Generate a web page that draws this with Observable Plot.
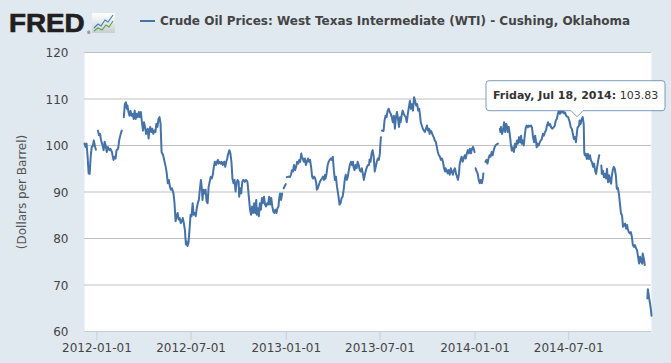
<!DOCTYPE html>
<html><head><meta charset="utf-8">
<script src="https://cdn.jsdelivr.net/npm/d3@7"></script>
<script src="https://cdn.jsdelivr.net/npm/@observablehq/plot@0.6"></script>
<style>
html,body{margin:0;padding:0;background:#E1E9F0;}
#chart{position:relative;width:671px;height:363px;overflow:hidden;}
</style></head><body><div id="chart"></div>
<script>
const seriesName = "Crude Oil Prices: West Texas Intermediate (WTI) - Cushing, Oklahoma";
const yLabel = "(Dollars per Barrel)";
const xTickLabels = ["2012-01-01","2012-07-01","2013-01-01","2013-07-01","2014-01-01","2014-07-01"];
const yTickValues = [60,70,80,90,100,110,120];
const xDomain = ["2011-12-08","2014-12-08"];
const tipDate = "2014-07-18";

// month-day of each reading, per year (null price = no data, line breaks)
const days2011 = ["12-08","12-10","12-12","12-14","12-16","12-18","12-20","12-22","12-24","12-26","12-28","12-30"];
const prices2011 = [100.4,99.7,100.4,97.6,94.0,93.9,97.6,99.7,99.8,101.1,100.0,99.1];

const days2012 = ["01-02","01-03","01-05","01-07","01-09","01-11","01-14","01-16","01-18","01-20","01-22","01-25","01-27","01-30",
"02-02","02-04","02-06","02-08","02-11","02-13","02-16","02-18","02-20","02-22","02-24","02-26","02-28","02-29",
"03-02","03-04","03-06","03-08","03-10","03-12","03-14","03-16","03-18","03-20","03-22","03-24","03-26","03-28","03-30",
"04-01","04-03","04-05","04-08","04-10","04-11","04-13","04-15","04-17","04-19","04-21","04-23","04-25","04-27","04-29",
"05-01","05-03","05-05","05-08","05-10","05-13","05-15","05-17","05-19","05-21","05-23","05-25","05-28","05-30",
"06-01","06-03","06-05","06-07","06-09","06-11","06-13","06-15","06-17","06-19","06-21","06-22","06-24","06-26","06-28","06-30",
"07-02","07-04","07-06","07-08","07-10","07-12","07-14","07-16","07-18","07-20","07-22","07-23","07-25","07-27","07-29","07-31",
"08-02","08-04","08-06","08-08","08-10","08-12","08-14","08-16","08-18","08-20","08-22","08-23","08-25","08-27","08-29","08-31",
"09-03","09-05","09-07","09-09","09-10","09-13","09-15","09-17","09-19","09-21","09-23","09-25","09-27","09-29",
"10-01","10-02","10-04","10-06","10-08","10-10","10-13","10-15","10-18","10-20","10-23","10-25","10-27","10-29","10-31",
"11-02","11-04","11-05","11-07","11-09","11-11","11-13","11-15","11-17","11-19","11-21","11-23","11-25","11-27","11-29",
"12-01","12-03","12-05","12-07","12-09","12-11","12-13","12-15","12-17","12-18","12-20","12-22","12-24","12-25","12-27","12-31"];
const prices2012 = [null,103.2,102.2,102.5,101.1,100.4,99.0,100.8,100.0,98.6,99.7,99.0,99.3,98.6,
96.9,97.6,97.2,99.0,99.3,101.1,102.5,103.2,null,106.1,108.9,109.3,107.9,108.6,
107.2,106.4,107.4,106.4,106.8,105.7,107.5,105.7,106.8,106.1,107.2,106.1,107.2,105.0,103.2,
105.0,104.0,102.5,103.6,101.5,102.9,104.0,102.9,103.6,102.5,103.2,102.9,104.7,104.0,105.7,
106.1,104.7,98.6,97.9,96.9,95.4,94.0,91.9,92.6,91.2,90.5,90.8,89.7,87.6,
83.7,84.8,85.5,84.1,84.4,83.3,83.7,84.4,83.3,81.9,78.7,79.4,78.4,79.1,81.9,85.1,
84.8,87.6,85.1,85.5,84.8,86.5,87.6,88.3,90.5,92.6,90.5,88.3,90.5,89.7,90.5,88.0,
87.6,91.2,92.2,93.3,92.9,93.7,95.4,96.5,95.8,96.5,96.9,96.1,96.5,96.1,96.5,95.8,
96.5,95.4,96.5,97.2,97.9,99.0,98.3,96.5,92.9,91.9,92.6,90.1,91.9,92.6,
92.2,89.0,90.8,89.7,92.2,92.6,92.2,92.6,92.2,89.7,86.2,85.1,86.9,85.5,87.6,
85.5,88.3,85.1,86.5,84.8,87.6,86.2,88.7,87.6,89.0,87.3,86.9,87.6,87.3,89.0,
87.3,88.7,86.9,85.8,85.5,86.2,85.5,86.5,86.9,88.3,89.7,88.3,89.7,null,90.8,91.7];

const days2013 = ["01-01","01-02","01-05","01-08","01-10","01-12","01-14","01-16","01-18","01-20","01-22","01-24","01-26","01-28","01-30","01-31",
"02-02","02-04","02-06","02-08","02-10","02-12","02-14","02-16","02-18","02-20","02-22","02-24","02-26","02-28",
"03-01","03-03","03-05","03-07","03-09","03-11","03-13","03-15","03-17","03-18","03-20","03-22","03-24","03-26","03-28","03-30",
"04-01","04-03","04-05","04-07","04-09","04-10","04-12","04-14","04-16","04-18","04-20","04-22","04-24","04-26","04-28","04-30",
"05-02","05-04","05-06","05-08","05-10","05-11","05-13","05-15","05-17","05-19","05-21","05-23","05-25","05-27","05-29","05-31",
"06-02","06-04","06-06","06-08","06-10","06-11","06-13","06-15","06-17","06-19","06-21","06-23","06-25","06-27","06-29",
"07-01","07-02","07-03","07-04","07-05","07-08","07-10","07-12","07-14","07-16","07-18","07-20","07-22","07-24","07-26","07-28","07-30",
"08-01","08-03","08-05","08-07","08-09","08-10","08-12","08-14","08-16","08-18","08-20","08-22","08-24","08-26","08-28","08-30",
"09-01","09-03","09-05","09-07","09-09","09-11","09-13","09-15","09-17","09-18","09-20","09-22","09-24","09-26","09-28","09-30",
"10-02","10-04","10-05","10-07","10-09","10-11","10-13","10-15","10-17","10-19","10-21","10-23","10-25","10-27","10-29","10-31",
"11-02","11-04","11-05","11-07","11-09","11-11","11-13","11-15","11-17","11-19","11-21","11-23","11-25","11-27","11-29",
"12-01","12-02","12-04","12-06","12-08","12-10","12-12","12-14","12-16","12-18","12-20","12-22","12-24","12-26","12-28","12-30","12-31"];
const prices2013 = [null,93.2,93.3,93.2,93.7,94.7,94.4,95.8,94.7,95.4,96.5,96.1,96.9,96.5,98.3,97.6,
97.2,96.5,97.2,95.8,96.5,97.2,96.5,96.9,95.4,93.3,92.9,93.3,92.9,91.9,
90.5,90.8,91.5,92.2,92.6,92.9,93.3,92.6,93.7,92.9,94.0,95.8,96.5,96.9,97.2,96.9,
97.6,94.7,92.6,93.3,91.2,90.5,89.0,87.3,87.6,88.7,89.0,90.5,92.6,93.7,92.6,93.3,
94.7,95.8,96.5,95.8,96.5,95.4,94.7,95.8,95.1,96.5,95.8,94.7,94.4,95.1,94.0,92.6,
93.7,94.7,95.4,95.8,95.8,97.0,96.5,98.3,99.0,97.6,94.4,95.4,96.5,97.2,96.9,
98.3,100.4,101.8,null,103.2,103.1,105.4,106.4,106.1,107.5,107.9,107.2,106.8,106.1,105.0,106.4,103.6,
106.1,107.2,105.7,104.0,106.1,105.0,106.4,107.5,106.8,106.4,106.1,105.0,106.8,108.2,109.6,107.9,
108.9,107.5,110.4,109.6,108.6,108.9,107.5,107.9,106.1,105.0,104.3,103.6,103.2,102.9,103.6,104.3,
103.2,103.6,102.5,103.2,102.9,102.2,101.8,101.1,100.8,99.7,98.6,97.9,97.6,96.9,97.2,96.5,
95.1,94.4,95.1,94.7,94.0,94.7,93.7,95.1,94.4,93.7,94.7,95.1,94.0,93.3,92.6,
94.0,95.8,96.9,97.6,96.5,97.2,97.9,97.2,98.3,99.0,98.3,99.3,98.3,99.3,99.7,99.0,98.6];

const days2014 = ["01-01","01-02","01-04","01-06","01-08","01-10","01-12","01-14","01-16","01-17","01-20","01-21","01-23","01-25","01-27","01-29","01-31",
"02-02","02-04","02-06","02-08","02-10","02-14","02-17","02-18","02-19","02-20","02-22","02-24","02-26","02-28",
"03-02","03-04","03-05","03-07","03-09","03-11","03-13","03-15","03-17","03-19","03-21","03-23","03-25","03-27","03-29","03-31",
"04-01","04-03","04-05","04-07","04-09","04-11","04-13","04-15","04-17","04-19","04-21","04-23","04-25","04-27","04-29","04-30",
"05-02","05-04","05-06","05-08","05-10","05-12","05-14","05-16","05-18","05-20","05-22","05-24","05-26","05-28","05-30",
"06-02","06-04","06-06","06-08","06-10","06-12","06-14","06-16","06-18","06-20","06-22","06-24","06-26","06-28","06-30",
"07-01","07-03","07-05","07-07","07-09","07-11","07-13","07-15","07-17","07-18","07-21","07-22","07-24","07-26","07-28","07-30","07-31",
"08-01","08-03","08-05","08-07","08-09","08-11","08-13","08-15","08-17","08-19","08-21","08-23","08-25","08-27","08-29",
"09-01","09-02","09-03","09-05","09-07","09-09","09-11","09-13","09-15","09-17","09-19","09-21","09-22","09-24","09-26","09-28","09-30",
"10-02","10-04","10-06","10-08","10-10","10-12","10-14","10-16","10-18","10-20","10-22","10-23","10-25","10-27","10-29","10-31",
"11-02","11-04","11-06","11-08","11-10","11-12","11-14","11-16","11-18","11-20","11-21","11-23","11-25","11-27","11-30",
"12-01","12-03","12-05","12-07","12-08"];
const prices2014 = [null,95.1,94.4,94.0,92.6,91.9,92.6,91.9,92.9,94.0,null,96.5,96.9,96.1,97.2,97.9,97.6,
98.6,97.9,99.0,99.7,100.1,100.4,null,103.6,102.9,104.0,102.5,103.2,105.0,102.9,
104.7,104.0,102.9,104.0,102.5,100.4,98.9,99.6,98.6,100.4,99.6,101.1,100.4,101.8,100.7,102.1,
100.4,101.1,100.0,102.1,103.9,104.3,103.9,104.3,104.1,104.3,103.9,101.8,100.7,102.1,100.7,99.6,
100.4,100.0,100.7,101.1,101.4,102.5,102.1,102.9,103.2,104.3,105.0,104.3,104.6,103.9,103.6,
103.9,104.3,105.4,105.7,106.8,107.5,106.8,107.6,107.1,107.5,106.9,107.1,106.4,106.2,106.1,
105.7,105.0,103.9,103.6,102.5,101.4,101.8,100.7,102.9,103.83,104.3,105.4,104.6,105.7,106.1,104.6,98.6,
97.9,98.2,97.1,98.2,97.1,97.9,96.8,96.4,95.4,96.1,94.6,93.9,95.4,96.8,97.9,
null,95.7,93.9,94.6,93.2,93.9,92.9,95.0,92.1,93.6,92.5,91.8,93.2,94.6,95.4,95.0,93.6,
90.7,90.9,89.6,87.5,85.4,85.0,82.5,82.9,83.2,82.1,82.9,82.1,81.4,81.1,81.4,80.4,
78.6,78.2,78.6,77.9,77.5,76.1,74.6,76.1,75.0,74.6,76.8,75.7,74.3,null,67.1,
69.1,67.5,66.1,64.6,63.4];

const parse = d3.utcParse("%Y-%m-%d");
const years = [[2011, days2011, prices2011],[2012, days2012, prices2012],[2013, days2013, prices2013],[2014, days2014, prices2014]];
const data = [];
for (const [yr, ds, ps] of years) ds.forEach((md, i) => data.push({date: parse(`${yr}-${md}`), price: ps[i]}));

const lineColor = "#4572A7";
const chart = Plot.plot({
  width: 671, height: 363,
  marginTop: 52, marginBottom: 32, marginLeft: 84, marginRight: 20,
  style: {background: "#E1E9F0", fontFamily: "DejaVu Sans", fontSize: "12px", overflow: "visible"},
  x: {type: "utc", domain: xDomain.map(parse)},
  y: {domain: [60, 120]},
  marks: [
    Plot.frame({fill: "white", stroke: null}),
    Plot.gridY(yTickValues.filter(v => v > 60), {stroke: "#C0C0C0", strokeOpacity: 1}),
    Plot.ruleY([60], {stroke: "#C0D0E0"}),
    Plot.axisX(xTickLabels.map(parse), {tickFormat: d3.utcFormat("%Y-%m-%d"), tickSize: 9, tickPadding: 3, stroke: "#C0D0E0", fill: "#444", label: null}),
    Plot.axisY(yTickValues, {tickSize: 0, tickPadding: 16, fill: "#444", dy: 1, label: null}),
    Plot.text([yLabel], {frameAnchor: "left", dx: -62, rotate: -90, textAnchor: "middle", lineAnchor: "middle", fill: "#555", fontSize: 12}),
    Plot.line(data, {x: "date", y: "price", stroke: lineColor, strokeWidth: 2})
  ]
});
document.getElementById("chart").appendChild(chart);

const svg = d3.select(chart);
// FRED logo
const logo = svg.append("g").attr("text-anchor", "start");
logo.append("text").attr("transform", "translate(9,32) scale(1.05,1)").attr("text-anchor", "start").attr("font-family", "Liberation Sans").attr("font-weight", "bold")
  .attr("font-size", 26.5).attr("fill", "#231F20").attr("stroke", "#231F20").attr("stroke-width", 0.7).text("FRED");
logo.append("text").attr("x", 86.5).attr("y", 34).attr("text-anchor", "start").attr("font-size", 4.5).attr("fill", "#231F20").text("®");
const defs = svg.append("defs");
const grad = defs.append("linearGradient").attr("id", "lg").attr("x1", 0).attr("y1", 0).attr("x2", 0).attr("y2", 1);
grad.append("stop").attr("offset", 0).attr("stop-color", "#ffffff");
grad.append("stop").attr("offset", 1).attr("stop-color", "#c9ced3");
logo.append("rect").attr("x", 92).attr("y", 13).attr("width", 23).attr("height", 20).attr("fill", "url(#lg)");
logo.append("polyline").attr("points", "94,28 98,24 101,26 105,20 108,22 113,15").attr("fill", "none").attr("stroke", "#4a7fc0").attr("stroke-width", 1.2);
logo.append("polyline").attr("points", "94,31 98,28 102,30 106,25 109,27 113,21").attr("fill", "none").attr("stroke", "#5aa846").attr("stroke-width", 1.2);

// legend / title
svg.append("line").attr("x1", 140).attr("x2", 155).attr("y1", 21).attr("y2", 21).attr("stroke", lineColor).attr("stroke-width", 2);
svg.append("text").attr("x", 160).attr("y", 25).attr("text-anchor", "start").attr("font-family", "DejaVu Sans").attr("font-weight", "bold")
  .attr("font-size", 12).attr("fill", "#444").text(seriesName);

// tooltip at the highlighted reading
const tip = data.find(d => +d.date === +parse(tipDate));
const px = chart.scale("x").apply(tip.date), py = chart.scale("y").apply(tip.price);
const L = px - 91, R = px + 88, T = py - 46.5, B = py - 16.5, tipY = py - 10.5;
svg.append("path")
  .attr("d", `M${L+3},${T} H${R-3} Q${R},${T} ${R},${T+3} V${B-3} Q${R},${B} ${R-3},${B} H${px+6} L${px},${tipY} L${px-6},${B} H${L+3} Q${L},${B} ${L},${B-3} V${T+3} Q${L},${T} ${L+3},${T} Z`)
  .attr("fill", "rgba(255,255,255,0.95)").attr("stroke", lineColor).attr("stroke-opacity", 0.7).attr("stroke-width", 1);
const tt = svg.append("text").attr("x", L + 7).attr("y", T + 18.5).attr("text-anchor", "start").attr("font-family", "DejaVu Sans").attr("font-size", 11).attr("fill", "#333");
tt.append("tspan").attr("font-weight", "bold").text(d3.utcFormat("%A, %b %d, %Y")(tip.date) + ":");
tt.append("tspan").text(" " + tip.price.toFixed(2));
</script></body></html>
